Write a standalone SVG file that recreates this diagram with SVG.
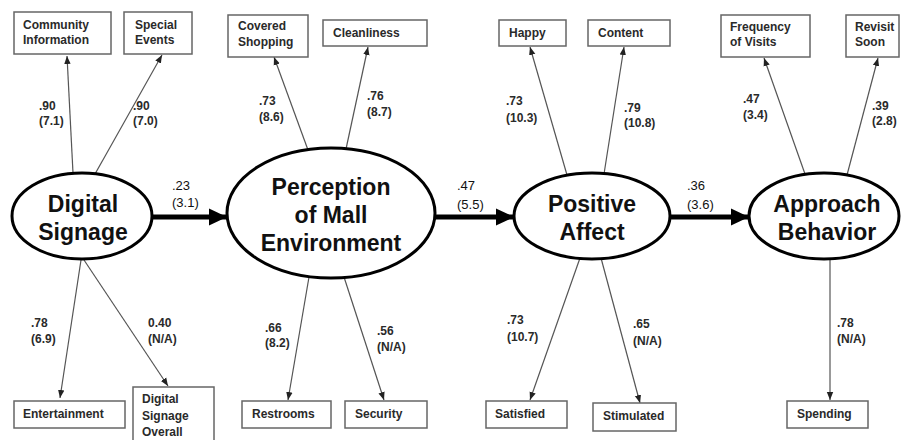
<svg xmlns="http://www.w3.org/2000/svg" width="901" height="440" viewBox="0 0 901 440">
<defs>
<marker id="ah" markerUnits="userSpaceOnUse" markerWidth="8" markerHeight="8" viewBox="0 0 8 8" refX="8" refY="4" orient="auto"><path d="M0,0.8 L8,4 L0,7.2 Z" fill="#222"/></marker>
<marker id="big" markerUnits="userSpaceOnUse" markerWidth="18" markerHeight="18" viewBox="0 0 18 18" refX="18" refY="9" orient="auto"><path d="M0,0.5 L18,9 L0,17.5 Z" fill="#000"/></marker>
<style>
.box{fill:#fff;stroke:#666;stroke-width:1.5}
.lv{fill:#fff;stroke:#000;stroke-width:3}
.t{font-family:"Liberation Sans",Arial,sans-serif;font-weight:bold;font-size:12px;fill:#2a2a2a}
.big{font-family:"Liberation Sans",Arial,sans-serif;font-weight:bold;font-size:23px;fill:#111;text-anchor:middle}
.lab{font-family:"Liberation Sans",Arial,sans-serif;font-weight:bold;font-size:12px;fill:#2a2a2a}
.p{font-family:"Liberation Sans",Arial,sans-serif;font-size:13px;fill:#111}
.thin{stroke:#555;stroke-width:1.2;fill:none;marker-end:url(#ah)}
.thick{stroke:#000;stroke-width:5;fill:none;marker-end:url(#big)}
</style>
</defs>
<rect width="901" height="440" fill="#fff"/>
<g id="connectors">
<line class="thin" x1="73" y1="173" x2="67" y2="56"/>
<line class="thin" x1="95" y1="174" x2="162" y2="55"/>
<line class="thin" x1="81" y1="260" x2="60" y2="398"/>
<line class="thin" x1="84" y1="260" x2="168" y2="386"/>
<line class="thin" x1="308" y1="150" x2="274" y2="57"/>
<line class="thin" x1="346" y1="149" x2="368" y2="47"/>
<line class="thin" x1="309" y1="277" x2="288" y2="400"/>
<line class="thin" x1="344" y1="277" x2="384" y2="400"/>
<line class="thin" x1="567" y1="175" x2="530" y2="47"/>
<line class="thin" x1="604" y1="174" x2="624" y2="47"/>
<line class="thin" x1="580" y1="258" x2="530" y2="400"/>
<line class="thin" x1="601" y1="258" x2="640" y2="403"/>
<line class="thin" x1="805" y1="174" x2="764" y2="58"/>
<line class="thin" x1="847" y1="175" x2="878" y2="58"/>
<line class="thin" x1="830" y1="259" x2="830" y2="400"/>
<line class="thick" x1="152" y1="217" x2="227" y2="217"/>
<line class="thick" x1="435" y1="217" x2="514" y2="217"/>
<line class="thick" x1="670" y1="217" x2="749" y2="217"/>
</g>
<g id="labels">
<text class="lab" x="39" y="110">.90</text><text class="lab" x="39" y="125">(7.1)</text>
<text class="lab" x="133" y="110">.90</text><text class="lab" x="133" y="125">(7.0)</text>
<text class="lab" x="259" y="105">.73</text><text class="lab" x="259" y="121">(8.6)</text>
<text class="lab" x="367" y="100">.76</text><text class="lab" x="367" y="116">(8.7)</text>
<text class="lab" x="506" y="105">.73</text><text class="lab" x="506" y="122">(10.3)</text>
<text class="lab" x="624" y="112">.79</text><text class="lab" x="624" y="127">(10.8)</text>
<text class="lab" x="743" y="103">.47</text><text class="lab" x="743" y="119">(3.4)</text>
<text class="lab" x="872" y="110">.39</text><text class="lab" x="872" y="125">(2.8)</text>
<text class="lab" x="31" y="327">.78</text><text class="lab" x="31" y="343">(6.9)</text>
<text class="lab" x="148" y="327">0.40</text><text class="lab" x="148" y="343">(N/A)</text>
<text class="lab" x="265" y="332">.66</text><text class="lab" x="265" y="347">(8.2)</text>
<text class="lab" x="377" y="335">.56</text><text class="lab" x="377" y="351">(N/A)</text>
<text class="lab" x="507" y="324">.73</text><text class="lab" x="507" y="341">(10.7)</text>
<text class="lab" x="633" y="328">.65</text><text class="lab" x="633" y="345">(N/A)</text>
<text class="lab" x="837" y="327">.78</text><text class="lab" x="837" y="343">(N/A)</text>
<text class="p" x="172" y="190">.23</text><text class="p" x="172" y="207" font-size="11">(3.1)</text>
<text class="p" x="457" y="190">.47</text><text class="p" x="457" y="209">(5.5)</text>
<text class="p" x="687" y="190">.36</text><text class="p" x="687" y="209">(3.6)</text>
</g>
<g id="n-digital-signage"><ellipse class="lv" cx="82" cy="216" rx="70" ry="43"/><text class="big" x="83" y="212" font-size="24">Digital</text><text class="big" x="83" y="240" font-size="24">Signage</text></g>
<g id="n-perception"><ellipse class="lv" cx="331" cy="213" rx="104" ry="65"/><text class="big" x="331" y="195">Perception</text><text class="big" x="331" y="223">of Mall</text><text class="big" x="331" y="251">Environment</text></g>
<g id="n-positive-affect"><ellipse class="lv" cx="592" cy="216" rx="78" ry="43"/><text class="big" x="592" y="212">Positive</text><text class="big" x="592" y="240">Affect</text></g>
<g id="n-approach"><ellipse class="lv" cx="824" cy="216" rx="75" ry="43"/><text class="big" x="827" y="212">Approach</text><text class="big" x="827" y="240">Behavior</text></g>
<g id="b-community"><rect class="box" x="14" y="12" width="97" height="42"/><text class="t" x="23" y="29">Community</text><text class="t" x="23" y="44">Information</text></g>
<g id="b-special"><rect class="box" x="124" y="12" width="68" height="42"/><text class="t" x="135" y="29">Special</text><text class="t" x="135" y="44">Events</text></g>
<g id="b-covered"><rect class="box" x="228" y="15" width="80" height="42"/><text class="t" x="238" y="30">Covered</text><text class="t" x="238" y="46">Shopping</text></g>
<g id="b-clean"><rect class="box" x="323" y="20" width="104" height="26"/><text class="t" x="333" y="37">Cleanliness</text></g>
<g id="b-happy"><rect class="box" x="499" y="20" width="67" height="26"/><text class="t" x="509" y="37">Happy</text></g>
<g id="b-content"><rect class="box" x="588" y="20" width="82" height="26"/><text class="t" x="598" y="37">Content</text></g>
<g id="b-frequency"><rect class="box" x="721" y="15" width="89" height="42"/><text class="t" x="730" y="31">Frequency</text><text class="t" x="730" y="46">of Visits</text></g>
<g id="b-revisit"><rect class="box" x="846" y="15" width="53" height="42"/><text class="t" x="855" y="31">Revisit</text><text class="t" x="855" y="46">Soon</text></g>
<g id="b-entertainment"><rect class="box" x="14" y="401" width="111" height="27"/><text class="t" x="23" y="418">Entertainment</text></g>
<g id="b-dso"><rect class="box" x="133" y="387" width="81" height="56"/><text class="t" x="142" y="403">Digital</text><text class="t" x="142" y="420">Signage</text><text class="t" x="142" y="436">Overall</text></g>
<g id="b-restrooms"><rect class="box" x="242" y="401" width="89" height="27"/><text class="t" x="252" y="418">Restrooms</text></g>
<g id="b-security"><rect class="box" x="345" y="401" width="82" height="27"/><text class="t" x="355" y="418">Security</text></g>
<g id="b-satisfied"><rect class="box" x="486" y="401" width="81" height="27"/><text class="t" x="495" y="418">Satisfied</text></g>
<g id="b-stimulated"><rect class="box" x="593" y="403" width="83" height="28"/><text class="t" x="603" y="420">Stimulated</text></g>
<g id="b-spending"><rect class="box" x="787" y="401" width="81" height="27"/><text class="t" x="797" y="418">Spending</text></g>
</svg>
